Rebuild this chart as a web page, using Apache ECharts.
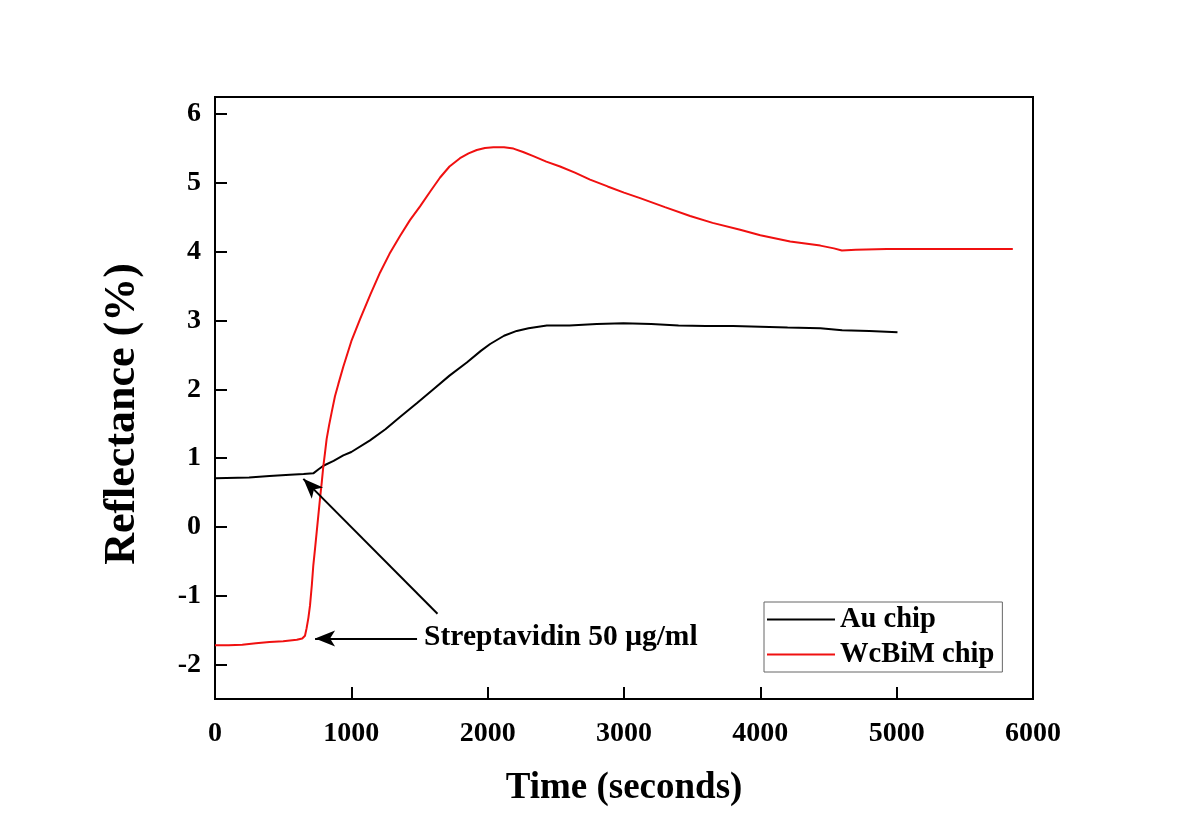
<!DOCTYPE html>
<html>
<head>
<meta charset="utf-8">
<script src="https://cdn.jsdelivr.net/npm/echarts@6/dist/echarts.min.js"></script>
<style>html,body{margin:0;padding:0;background:#fff;}#chart{width:1200px;height:838px;}</style>
</head>
<body>
<div id="chart"></div>
<script>
// ---- data ----
const seriesNames = ['Au chip', 'WcBiM chip'];
const xTitle = 'Time (seconds)';
const yTitle = 'Reflectance (%)';
const xTicks = [0, 1000, 2000, 3000, 4000, 5000, 6000];
const yTicks = [-2, -1, 0, 1, 2, 3, 4, 5, 6];
const auChip = [
  [0,0.71],[250,0.72],[400,0.74],[550,0.76],[650,0.77],[721,0.78],[760,0.84],[795,0.89],[870,0.96],[941,1.04],
  [1000,1.09],[1137,1.26],[1250,1.42],[1357,1.60],[1480,1.80],[1600,2.00],[1720,2.20],[1847,2.39],[1950,2.56],
  [2018,2.66],[2120,2.78],[2213,2.85],[2300,2.89],[2434,2.93],[2600,2.93],[2800,2.95],[2996,2.96],[3200,2.95],
  [3400,2.93],[3600,2.92],[3800,2.92],[4000,2.91],[4200,2.90],[4440,2.89],[4600,2.86],[4800,2.85],[5006,2.83]
];
const wcbimChip = [
  [0,-1.72],[100,-1.72],[200,-1.71],[300,-1.69],[400,-1.67],[500,-1.66],[600,-1.64],[640,-1.62],[660,-1.58],
  [672,-1.47],[685,-1.32],[697,-1.14],[710,-0.85],[721,-0.56],[734,-0.31],[746,-0.07],[758,0.17],[770,0.41],
  [783,0.65],[795,0.89],[807,1.08],[819,1.28],[837,1.48],[856,1.67],[880,1.90],[905,2.08],[941,2.33],[1000,2.70],
  [1064,3.02],[1140,3.38],[1211,3.70],[1280,3.97],[1357,4.23],[1430,4.46],[1504,4.66],[1580,4.88],[1651,5.08],
  [1720,5.24],[1797,5.36],[1860,5.43],[1920,5.48],[1980,5.51],[2042,5.52],[2120,5.52],[2189,5.50],[2260,5.45],
  [2335,5.39],[2430,5.31],[2531,5.24],[2640,5.15],[2751,5.05],[2880,4.95],[3000,4.86],[3118,4.78],[3300,4.65],
  [3485,4.52],[3650,4.42],[3852,4.32],[4000,4.24],[4219,4.15],[4440,4.09],[4540,4.05],[4598,4.02],[4700,4.03],
  [4928,4.04],[5200,4.04],[5416,4.04],[5650,4.04],[5852,4.04]
];
const annotationText = 'Streptavidin 50 μg/ml';
const annotationAt = [1530, -1.6];
const arrowFromTo = [
  [[1632, -1.26], [648, 0.70]],
  [[1482, -1.62], [734, -1.62]]
];

const FONT = '"Liberation Serif", "Times New Roman", serif';
const chart = echarts.init(document.getElementById('chart'), null, {renderer: 'canvas'});
chart.setOption({
  animation: false,
  backgroundColor: '#fff',
  grid: {left: 215, right: 167, top: 97, bottom: 139, show: true, borderColor: '#000', borderWidth: 2, backgroundColor: 'transparent'},
  legend: {
    orient: 'vertical', left: 764, top: 602,
    data: seriesNames,
    icon: 'rect', itemWidth: 68, itemHeight: 2, itemGap: 6,
    borderColor: '#666', borderWidth: 1, padding: [3, 8, 3, 3],
    textStyle: {fontFamily: FONT, fontWeight: 'bold', fontSize: 28.5, color: '#000', lineHeight: 29}
  },
  xAxis: {
    type: 'value', min: 0, max: 6000, interval: 1000,
    name: xTitle, nameLocation: 'middle', nameGap: 71,
    nameTextStyle: {fontFamily: FONT, fontWeight: 'bold', fontSize: 37, color: '#000'},
    axisLine: {show: true, onZero: false, lineStyle: {color: '#000', width: 2}},
    axisTick: {show: true, inside: true, length: 12, customValues: xTicks, lineStyle: {color: '#000', width: 2}},
    axisLabel: {fontFamily: FONT, fontWeight: 'bold', fontSize: 28, color: '#000', margin: 21,
      customValues: xTicks, formatter: v => String(v)},
    splitLine: {show: false}
  },
  yAxis: {
    type: 'value', min: -2.5, max: 6.25,
    name: yTitle, nameLocation: 'middle', nameGap: 70, nameRotate: 90,
    nameTextStyle: {fontFamily: FONT, fontWeight: 'bold', fontSize: 44, color: '#000', padding: [0, 32, 0, 0]},
    axisLine: {show: true, onZero: false, lineStyle: {color: '#000', width: 2}},
    axisTick: {show: true, inside: true, length: 12, customValues: yTicks, lineStyle: {color: '#000', width: 2}},
    axisLabel: {fontFamily: FONT, fontWeight: 'bold', fontSize: 28, color: '#000', margin: 14,
      customValues: yTicks, formatter: v => String(v)},
    splitLine: {show: false}
  },
  series: [
    {
      name: seriesNames[0], type: 'line', data: auChip, showSymbol: false, symbol: 'none',
      lineStyle: {color: '#000', width: 2}, itemStyle: {color: '#000'},
      markLine: {
        silent: true, symbol: ['none', 'arrow'], symbolSize: [12, 20], precision: 4,
        lineStyle: {color: '#000', width: 2, type: 'solid'}, itemStyle: {color: '#000'},
        label: {show: false},
        data: arrowFromTo.map(p => [{coord: p[0]}, {coord: p[1]}])
      },
      markPoint: {
        silent: true, symbol: 'circle', symbolSize: 1, itemStyle: {color: 'rgba(0,0,0,0)'},
        label: {show: true, position: 'right', distance: 0, formatter: annotationText,
          fontFamily: FONT, fontWeight: 'bold', fontSize: 29.5, color: '#000'},
        data: [{coord: annotationAt}]
      }
    },
    {
      name: seriesNames[1], type: 'line', data: wcbimChip, showSymbol: false, symbol: 'none',
      lineStyle: {color: '#f01010', width: 2}, itemStyle: {color: '#f01010'}
    }
  ]
});
</script>
</body>
</html>
